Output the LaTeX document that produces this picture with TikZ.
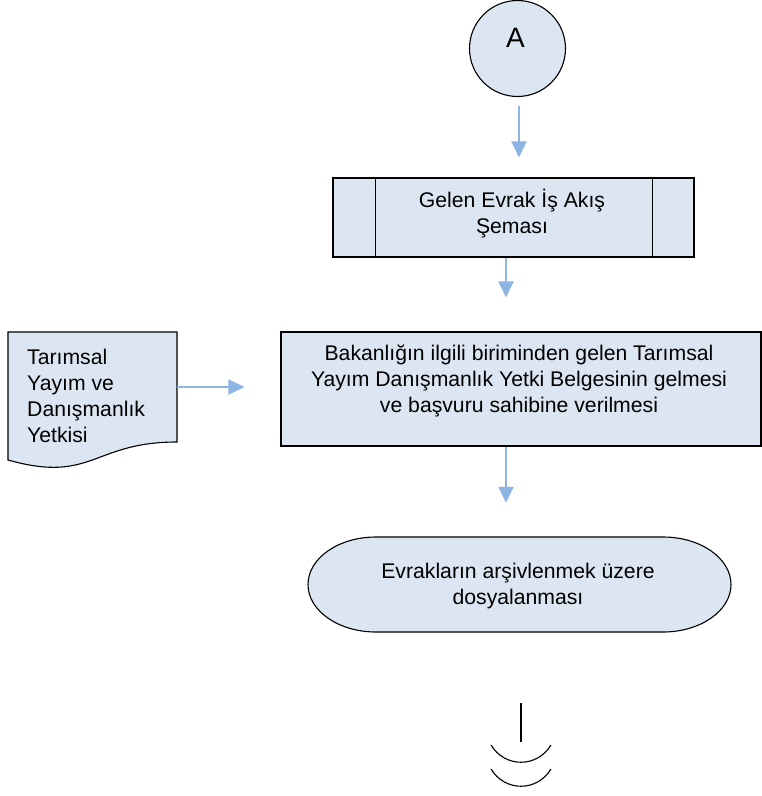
\documentclass[tikz,border=0pt]{standalone}
\usepackage{fontspec}
\setmainfont{Liberation Sans}
\usetikzlibrary{arrows.meta}
\definecolor{boxfill}{HTML}{DCE6F2}
\definecolor{arrowblue}{HTML}{8EB4E3}
\begin{document}
\begin{tikzpicture}[x=1pt,y=-1pt,
  shapeline/.style={draw=black,line width=1.1pt,fill=boxfill},
  plainline/.style={draw=black,line width=1.1pt},
  flowarrow/.style={draw=arrowblue,line width=2pt,-{Triangle[width=15pt,length=16pt]}},
  txt/.style={font=\fontsize{21.2}{26}\selectfont,align=center,inner sep=0pt}]
\useasboundingbox (0,0) rectangle (762,796);
% circle A
\node[shapeline,circle,minimum size=96pt,inner sep=0pt] (a) at (517.5,48.5) {};
\node[font=\fontsize{28}{30}\selectfont,inner sep=0pt] (atxt) at (515.5,38) {A};
% predefined process
\node[shapeline,minimum width=361pt,minimum height=79pt,inner sep=0pt] (gelen) at (513.5,217.5) {};
\draw[plainline] ([xshift=43pt]gelen.north west) -- ([xshift=43pt]gelen.south west);
\draw[plainline] ([xshift=-42pt]gelen.north east) -- ([xshift=-42pt]gelen.south east);
\node[txt] (gelentxt) at (512,214) {Gelen Evrak İş Akış\\Şeması};
% main process box
\node[shapeline,minimum width=480pt,minimum height=114pt,inner sep=0pt] (main) at (521,389) {};
\node[txt] (maintxt) at (519,381) {Bakanlığın ilgili biriminden gelen Tarımsal\\Yayım Danışmanlık Yetki Belgesinin gelmesi\\ve başvuru sahibine verilmesi};
% document shape
\node[minimum width=169pt,minimum height=137pt,inner sep=0pt] (doc) at (92.5,400.5) {};
\draw[shapeline] (8,332) -- (177,332) -- (177,442)
  .. controls (92.5,442) and (92.5,483.8) .. (8,460) -- cycle;
\node[txt,align=left,anchor=west] (doctxt) at (27,395.5) {Tarımsal\\Yayım ve\\Danışmanlık\\Yetkisi};
% terminator
\node[minimum width=423pt,minimum height=95pt,inner sep=0pt] (term) at (519.5,584.5) {};
\draw[shapeline] (376,537) -- (663,537)
  .. controls (700.6,537) and (731,558.3) .. (731,584.5)
  .. controls (731,610.7) and (700.6,632) .. (663,632)
  -- (376,632)
  .. controls (338.4,632) and (308,610.7) .. (308,584.5)
  .. controls (308,558.3) and (338.4,537) .. (376,537) -- cycle;
\node[txt] (termtxt) at (518,586) {Evrakların arşivlenmek üzere\\dosyalanması};
% arrows
\draw[flowarrow] ([xshift=1.5pt,yshift=-9pt]a.south) -- ([xshift=5.5pt,yshift=20pt]gelen.north);
\draw[flowarrow] ([xshift=-7.5pt]gelen.south) -- ([xshift=-15pt,yshift=34pt]main.north);
\draw[flowarrow] ([xshift=-15pt]main.south) -- ([xshift=-13.5pt,yshift=34pt]term.north);
\draw[flowarrow] ([yshift=13.5pt]doc.east) -- ([xshift=-36pt,yshift=2pt]main.west);
% off-page end connector
\coordinate (endc) at (521,703);
\draw[plainline] (endc) -- ++(0,39);
\draw[plainline] (491,745) .. controls (505,768) and (537,768) .. (551,745);
\draw[plainline] (491,769) .. controls (505,792) and (537,792) .. (551,769);
\end{tikzpicture}
\end{document}
